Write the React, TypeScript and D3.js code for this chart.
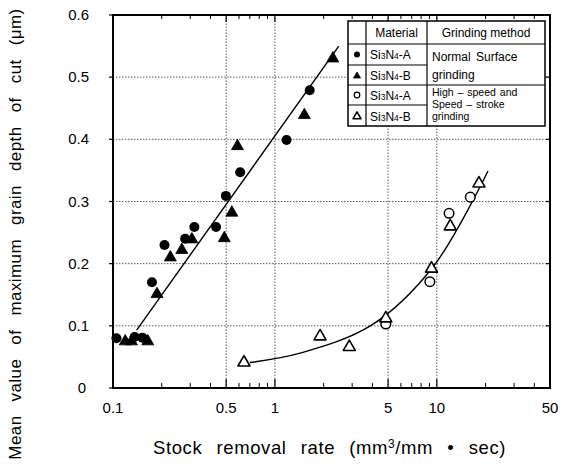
import React from "react";
import * as d3 from "d3";

const W = 562;
const H = 470;

// Normal surface grinding
const normalA: [number, number][] = [
  [0.105, 0.08], [0.136, 0.082], [0.152, 0.081], [0.174, 0.17], [0.208, 0.23],
  [0.279, 0.24], [0.318, 0.259], [0.433, 0.259], [0.498, 0.309], [0.61, 0.347],
  [1.18, 0.399], [1.64, 0.479],
];
const normalB: [number, number][] = [
  [0.119, 0.075], [0.13, 0.075], [0.164, 0.075], [0.187, 0.151], [0.226, 0.21],
  [0.266, 0.222], [0.307, 0.239], [0.487, 0.241], [0.542, 0.282], [0.587, 0.389],
  [1.52, 0.439], [2.28, 0.53],
];
// High-speed and speed-stroke grinding
const highA: [number, number][] = [
  [4.84, 0.103], [9.06, 0.171], [11.9, 0.281], [16.1, 0.307],
];
const highB: [number, number][] = [
  [0.644, 0.041], [1.9, 0.083], [2.88, 0.066], [4.84, 0.112], [9.27, 0.192],
  [12.1, 0.26], [18.2, 0.329],
];
// Fitted lines
const normalFit: [number, number][] = [[0.14, 0.093], [2.48, 0.55]];
const highFit: [number, number][] = [
  [0.7, 0.041], [1.43, 0.056], [3.95, 0.101], [9.49, 0.195], [20.7, 0.349],
];

const yTicks = [0, 0.1, 0.2, 0.3, 0.4, 0.5, 0.6];
const xTickLabels = [0.1, 0.5, 1, 5, 10, 50];
const xGrid = [0.5, 1, 5, 10];
const yGrid = [0.1, 0.2, 0.3, 0.4, 0.5];
const xMinor = [0.2, 0.3, 0.4, 0.6, 0.7, 0.8, 0.9, 2, 3, 4, 6, 7, 8, 9, 20, 30, 40];
const xMajor = [0.5, 1, 5, 10];

const FONT = "'Liberation Sans', Arial, Helvetica, sans-serif";

function Tri({ cx, cy, filled, s = 12 }: { cx: number; cy: number; filled: boolean; s?: number }) {
  const h = (s * Math.sqrt(3)) / 2;
  const p = `M${cx},${cy - (2 * h) / 3} L${cx + s / 2},${cy + h / 3} L${cx - s / 2},${cy + h / 3} Z`;
  return <path d={p} fill={filled ? "#000" : "#fff"} stroke="#000" strokeWidth={filled ? 0.8 : 1.6} strokeLinejoin="round" />;
}

function Formula({ x, y, suffix }: { x: number; y: number; suffix: string }) {
  return (
    <text x={x} y={y} fontSize={12} fontFamily={FONT}>
      Si<tspan fontSize={8.5}>3</tspan>N<tspan fontSize={8.5}>4</tspan>{suffix}
    </text>
  );
}

export default function App() {
  const x = d3.scaleLog().domain([0.1, 50]).range([113, 550]);
  const y = d3.scaleLinear().domain([0, 0.6]).range([388, 15]);
  const line = d3.line<[number, number]>().x((d) => x(d[0])).y((d) => y(d[1]));
  const curve = d3
    .line<[number, number]>()
    .x((d) => x(d[0]))
    .y((d) => y(d[1]))
    .curve(d3.curveCatmullRom.alpha(0.5));

  const [x0, x1] = x.range();
  const [y0, y1] = y.range();

  // legend geometry
  const L = { x0: 348, x1: 545, c1: 366, c2: 427 };
  const rows = [21, 44, 65, 85, 105, 126];

  return (
    <svg width={W} height={H} style={{ position: "absolute", left: 0, top: 0, background: "#fff" }}>
      <rect x={0} y={0} width={W} height={H} fill="#fff" />
      {/* grid */}
      {yGrid.map((v) => (
        <line key={"gy" + v} x1={x0} x2={x1} y1={y(v)} y2={y(v)} stroke="#333" strokeWidth={0.8} strokeDasharray="1.5,1.5" />
      ))}
      {xGrid.map((v) => (
        <line key={"gx" + v} x1={x(v)} x2={x(v)} y1={y0} y2={y1} stroke="#333" strokeWidth={0.8} strokeDasharray="1.5,1.5" />
      ))}
      {/* minor/major ticks bottom & top */}
      {xMinor.map((v) => (
        <g key={"mt" + v}>
          <line x1={x(v)} x2={x(v)} y1={y0} y2={y0 - 5} stroke="#000" strokeWidth={1} />
          <line x1={x(v)} x2={x(v)} y1={y1} y2={y1 + 4} stroke="#000" strokeWidth={1} />
        </g>
      ))}
      {xMajor.map((v) => (
        <g key={"Mt" + v}>
          <line x1={x(v)} x2={x(v)} y1={y0} y2={y0 - 9} stroke="#000" strokeWidth={1.2} />
          <line x1={x(v)} x2={x(v)} y1={y1} y2={y1 + 7} stroke="#000" strokeWidth={1.2} />
        </g>
      ))}
      {yTicks.map((v) => (
        <g key={"yt" + v}>
          <line x1={x0 - 4} x2={x0} y1={y(v)} y2={y(v)} stroke="#000" strokeWidth={1.2} />
          <line x1={x1 - 4} x2={x1} y1={y(v)} y2={y(v)} stroke="#000" strokeWidth={1.2} />
        </g>
      ))}
      {/* frame */}
      <rect x={x0} y={y1} width={x1 - x0} height={y0 - y1} fill="none" stroke="#000" strokeWidth={2} />
      {/* tick labels */}
      {yTicks.map((v) => (
        <text key={"yl" + v} x={v === 0 ? 86 : 89} y={y(v) + 5} textAnchor="end" fontSize={15} fontFamily={FONT}>
          {v === 0 ? "0" : v.toFixed(1)}
        </text>
      ))}
      {xTickLabels.map((v) => (
        <text key={"xl" + v} x={x(v)} y={413} textAnchor="middle" fontSize={15} fontFamily={FONT}>
          {String(v)}
        </text>
      ))}
      {/* axis titles */}
      <text x={153} y={454} textAnchor="start" fontSize={18.5} fontFamily={FONT} wordSpacing={8.5} letterSpacing={0.6}>
        Stock removal rate (mm<tspan fontSize={12} dy={-6}>3</tspan><tspan dy={6}>/mm • sec)</tspan>
      </text>
      <text
        transform={`translate(21,234) rotate(-90)`}
        textAnchor="middle"
        fontSize={17}
        fontFamily={FONT}
        wordSpacing={9}
        letterSpacing={0.4}
      >
        Mean value of maximum grain depth of cut (μm)
      </text>
      {/* fit lines */}
      <path d={line(normalFit) || ""} fill="none" stroke="#000" strokeWidth={1.4} />
      <path d={curve(highFit) || ""} fill="none" stroke="#000" strokeWidth={1.4} />
      {/* markers */}
      {normalA.map((d, i) => (
        <circle key={"na" + i} cx={x(d[0])} cy={y(d[1])} r={5} fill="#000" />
      ))}
      {normalB.map((d, i) => (
        <Tri key={"nb" + i} cx={x(d[0])} cy={y(d[1])} filled={true} />
      ))}
      {highA.map((d, i) => (
        <circle key={"ha" + i} cx={x(d[0])} cy={y(d[1])} r={4.8} fill="#fff" stroke="#000" strokeWidth={1.5} />
      ))}
      {highB.map((d, i) => (
        <Tri key={"hb" + i} cx={x(d[0])} cy={y(d[1])} filled={false} />
      ))}
      {/* legend */}
      <g fontFamily={FONT}>
        <rect x={L.x0} y={rows[0]} width={L.x1 - L.x0} height={rows[5] - rows[0]} fill="#fff" stroke="#000" strokeWidth={1.5} />
        <line x1={L.c1} x2={L.c1} y1={rows[0]} y2={rows[5]} stroke="#000" strokeWidth={1.2} />
        <line x1={L.c2} x2={L.c2} y1={rows[0]} y2={rows[5]} stroke="#000" strokeWidth={1.2} />
        <line x1={L.x0} x2={L.x1} y1={rows[1]} y2={rows[1]} stroke="#000" strokeWidth={1.2} />
        <line x1={L.x0} x2={L.c2} y1={rows[2]} y2={rows[2]} stroke="#000" strokeWidth={1.2} />
        <line x1={L.x0} x2={L.x1} y1={rows[3]} y2={rows[3]} stroke="#000" strokeWidth={1.2} />
        <line x1={L.x0} x2={L.c2} y1={rows[4]} y2={rows[4]} stroke="#000" strokeWidth={1.2} />
        <text x={(L.c1 + L.c2) / 2} y={37} textAnchor="middle" fontSize={12}>Material</text>
        <text x={(L.c2 + L.x1) / 2} y={37} textAnchor="middle" fontSize={12}>Grinding method</text>
        <circle cx={357} cy={(rows[1] + rows[2]) / 2} r={3} fill="#000" />
        <Tri cx={357} cy={(rows[2] + rows[3]) / 2 + 1} filled={true} s={7} />
        <circle cx={357} cy={(rows[3] + rows[4]) / 2} r={2.8} fill="#fff" stroke="#000" strokeWidth={1.2} />
        <Tri cx={357} cy={(rows[4] + rows[5]) / 2 + 1} filled={false} s={8} />
        <Formula x={370} y={59} suffix="-A" />
        <Formula x={370} y={80} suffix="-B" />
        <Formula x={370} y={100} suffix="-A" />
        <Formula x={370} y={121} suffix="-B" />
        <text x={432} y={61} fontSize={12} wordSpacing={2}>Normal Surface</text>
        <text x={432} y={79} fontSize={12}>grinding</text>
        <text x={432} y={96} fontSize={10.5} wordSpacing={1}>High – speed and</text>
        <text x={432} y={108} fontSize={10.5} wordSpacing={1}>Speed – stroke</text>
        <text x={432} y={120} fontSize={10.5}>grinding</text>
      </g>
    </svg>
  );
}
